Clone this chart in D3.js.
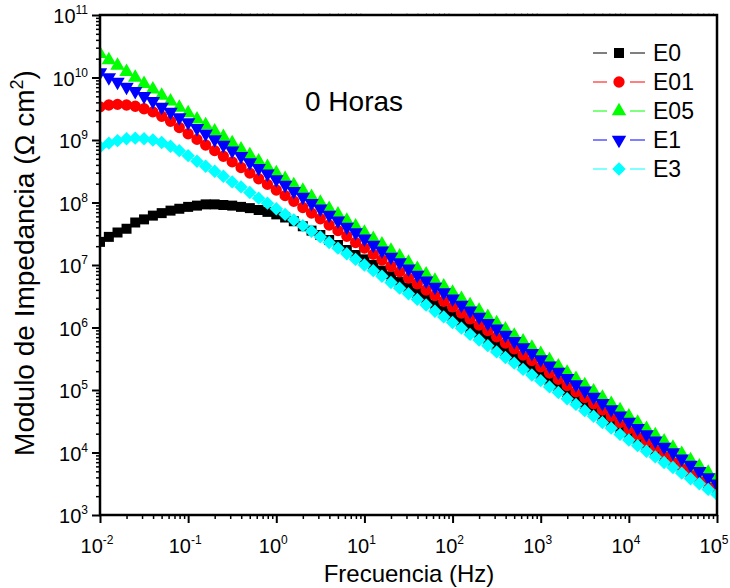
<!DOCTYPE html>
<html>
<head>
<meta charset="utf-8">
<script src="https://cdn.jsdelivr.net/npm/d3@7"></script>
<style>
  body { margin: 0; background: #fff; }
  text { font-family: Arial, "Liberation Sans", sans-serif; fill: #000; }
</style>
</head>
<body>
<svg id="chart" width="730" height="588"></svg>
<script>
// frequencies (Hz), 10 points per decade
const freq = [0.01,0.0126,0.0158,0.02,0.0251,0.0316,0.0398,0.0501,0.0631,0.0794,
  0.1,0.126,0.158,0.2,0.251,0.316,0.398,0.501,0.631,0.794,
  1,1.26,1.58,2,2.51,3.16,3.98,5.01,6.31,7.94,
  10,12.6,15.8,20,25.1,31.6,39.8,50.1,63.1,79.4,
  100,126,158,200,251,316,398,501,631,794,
  1000,1259,1585,1995,2512,3162,3981,5012,6310,7943,
  10000,12589,15849,19953,25119,31623,39811,50119,63096,79433,
  100000];

// log10 |Z| (ohm cm2)
const logZ_E0 = [7.37,7.45,7.52,7.58,7.68,7.73,7.79,7.83,7.87,7.90,
  7.93,7.95,7.97,7.97,7.96,7.95,7.93,7.91,7.88,7.85,
  7.81,7.76,7.70,7.62,7.55,7.48,7.40,7.32,7.24,7.16,
  7.09,7.00,6.91,6.82,6.73,6.64,6.55,6.46,6.36,6.27,
  6.18,6.09,5.99,5.90,5.81,5.71,5.62,5.53,5.43,5.34,
  5.25,5.15,5.06,4.96,4.87,4.77,4.68,4.58,4.49,4.39,
  4.30,4.21,4.11,4.02,3.93,3.84,3.75,3.66,3.57,3.48,
  3.39];
const logZ_E01 = [9.53,9.56,9.57,9.56,9.54,9.50,9.45,9.38,9.30,9.20,
  9.10,9.01,8.92,8.83,8.74,8.65,8.56,8.47,8.38,8.29,
  8.20,8.11,8.02,7.92,7.83,7.74,7.64,7.55,7.46,7.36,
  7.27,7.17,7.08,6.98,6.89,6.79,6.70,6.60,6.51,6.42,
  6.33,6.23,6.14,6.04,5.95,5.85,5.75,5.66,5.56,5.47,
  5.37,5.27,5.17,5.07,4.97,4.88,4.78,4.68,4.58,4.48,
  4.38,4.28,4.18,4.08,3.98,3.89,3.79,3.69,3.59,3.50,
  3.40];
const logZ_E05 = [10.38,10.28,10.19,10.09,10.00,9.90,9.81,9.71,9.62,9.52,
  9.43,9.33,9.24,9.14,9.05,8.95,8.85,8.76,8.66,8.57,
  8.47,8.38,8.28,8.19,8.09,8.00,7.90,7.81,7.71,7.62,
  7.52,7.42,7.33,7.23,7.14,7.04,6.94,6.85,6.75,6.66,
  6.56,6.46,6.36,6.27,6.17,6.07,5.97,5.87,5.78,5.68,
  5.58,5.48,5.38,5.28,5.18,5.08,4.98,4.88,4.78,4.68,
  4.58,4.48,4.38,4.28,4.18,4.08,3.98,3.88,3.78,3.68,
  3.58];
const logZ_E1 = [10.08,10.00,9.93,9.85,9.78,9.70,9.62,9.53,9.45,9.36,
  9.28,9.19,9.10,9.01,8.92,8.83,8.74,8.64,8.55,8.46,
  8.37,8.28,8.18,8.09,7.99,7.90,7.80,7.71,7.61,7.52,
  7.42,7.32,7.23,7.13,7.04,6.94,6.84,6.75,6.65,6.56,
  6.46,6.36,6.27,6.17,6.07,5.98,5.88,5.78,5.68,5.59,
  5.49,5.39,5.29,5.19,5.09,4.99,4.89,4.79,4.69,4.59,
  4.49,4.39,4.29,4.19,4.09,4.00,3.90,3.80,3.70,3.60,
  3.50];
const logZ_E3 = [8.89,8.95,8.99,9.02,9.03,9.02,9.00,8.96,8.90,8.83,
  8.75,8.66,8.58,8.50,8.42,8.33,8.25,8.16,8.07,7.99,
  7.90,7.81,7.72,7.63,7.54,7.45,7.36,7.27,7.18,7.09,
  7.00,6.91,6.82,6.72,6.63,6.54,6.45,6.36,6.26,6.17,
  6.08,5.99,5.89,5.80,5.71,5.61,5.52,5.43,5.33,5.24,
  5.15,5.05,4.96,4.86,4.77,4.67,4.58,4.48,4.39,4.29,
  4.20,4.11,4.02,3.93,3.84,3.76,3.67,3.58,3.50,3.41,
  3.33];

const seriesNames = ["E0", "E01", "E05", "E1", "E3"];
const seriesData = [logZ_E0, logZ_E01, logZ_E05, logZ_E1, logZ_E3];
const seriesColors = ["#000000", "#ff0000", "#00ff00", "#0000ff", "#00ffff"];
const seriesShapes = ["square", "circle", "triUp", "triDown", "diamond"];

const xExp = [-2, -1, 0, 1, 2, 3, 4, 5];
const yExp = [3, 4, 5, 6, 7, 8, 9, 10, 11];

const svg = d3.select("#chart");
const margin = {top: 15, right: 13, bottom: 73, left: 100};
const W = 730 - margin.left - margin.right;
const H = 588 - margin.top - margin.bottom;

const x = d3.scaleLog().domain([1e-2, 1e5]).range([0, W]);
const y = d3.scaleLog().domain([1e3, 1e11]).range([H, 0]);

const g = svg.append("g")
    .attr("transform", "translate(" + margin.left + "," + margin.top + ")");

g.append("clipPath").attr("id", "clip")
  .append("rect").attr("width", W).attr("height", H);

// minor tick positions
function minors(lo, hi) {
    let out = [];
    for (let e = lo; e < hi; e++) {
        for (let m = 2; m <= 9; m++) out.push(m * Math.pow(10, e));
    }
    return out;
}

// bottom axis
g.append("g").attr("transform", "translate(0," + H + ")")
    .call(d3.axisBottom(x).tickValues(minors(-2, 5)).tickSize(4).tickFormat(""))
    .call(a => a.select(".domain").remove())
    .call(a => a.selectAll("line").attr("stroke-width", 1.5));
g.append("g").attr("transform", "translate(0," + H + ")")
    .call(d3.axisBottom(x).tickValues(xExp.map(e => Math.pow(10, e))).tickSize(8).tickFormat(""))
    .call(a => a.select(".domain").remove())
    .call(a => a.selectAll("line").attr("stroke-width", 2));

// left axis
g.append("g")
    .call(d3.axisLeft(y).tickValues(minors(3, 11)).tickSize(4).tickFormat(""))
    .call(a => a.select(".domain").remove())
    .call(a => a.selectAll("line").attr("stroke-width", 1.5));
g.append("g")
    .call(d3.axisLeft(y).tickValues(yExp.map(e => Math.pow(10, e))).tickSize(8).tickFormat(""))
    .call(a => a.select(".domain").remove())
    .call(a => a.selectAll("line").attr("stroke-width", 2));

// faint top ticks
g.append("g")
    .call(d3.axisTop(x).tickValues(minors(-2, 5)).tickSize(2).tickFormat(""))
    .call(a => a.select(".domain").remove())
    .call(a => a.selectAll("line").attr("stroke", "#aaa"));

// tick labels
xExp.forEach(function(e) {
    let t = g.append("text")
        .attr("x", x(Math.pow(10, e)) - 3)
        .attr("y", H + 38)
        .attr("text-anchor", "middle")
        .style("font-size", "20px");
    t.append("tspan").text("10");
    t.append("tspan").attr("dy", -9).style("font-size", "12px").text(e);
});
yExp.forEach(function(e) {
    let t = g.append("text")
        .attr("x", -12)
        .attr("y", y(Math.pow(10, e)) + 8)
        .attr("text-anchor", "end")
        .style("font-size", "20px");
    t.append("tspan").text("10");
    t.append("tspan").attr("dy", -9).style("font-size", "12px").text(e);
});

// axis titles
g.append("text")
    .attr("x", 309)
    .attr("y", H + 67)
    .attr("text-anchor", "middle")
    .style("font-size", "24px")
    .text("Frecuencia (Hz)");

let yt = g.append("text")
    .attr("transform", "translate(-66,248) rotate(-90)")
    .attr("text-anchor", "middle")
    .style("font-size", "28px");
yt.append("tspan").text("Modulo de Impedancia (\u03A9 cm");
yt.append("tspan").attr("dy", -11).style("font-size", "18px").text("2");
yt.append("tspan").attr("dy", 11).text(")");

// marker shapes
function symbolPath(shape) {
    if (shape === "square") return d3.symbol().type(d3.symbolSquare).size(100)();
    if (shape === "circle") return d3.symbol().type(d3.symbolCircle).size(100)();
    if (shape === "diamond") return d3.symbol().type(d3.symbolSquare).size(90)();
    return d3.symbol().type(d3.symbolTriangle).size(90)();
}
function symbolRot(shape) {
    if (shape === "triDown") return " rotate(180)";
    if (shape === "diamond") return " rotate(45)";
    return "";
}

// series
const plot = g.append("g").attr("clip-path", "url(#clip)");
const line = d3.line()
    .x((d, i) => x(freq[i]))
    .y(d => y(Math.pow(10, d)));

seriesData.forEach(function(vals, s) {
    plot.append("path")
        .datum(vals)
        .attr("fill", "none")
        .attr("stroke", seriesColors[s])
        .attr("stroke-width", 1)
        .attr("d", line);
    plot.selectAll(".m" + s)
        .data(vals)
        .enter().append("path")
        .attr("class", "m" + s)
        .attr("d", symbolPath(seriesShapes[s]))
        .attr("fill", seriesColors[s])
        .attr("transform", function(d, i) {
            return "translate(" + x(freq[i]) + "," + y(Math.pow(10, d)) + ")" + symbolRot(seriesShapes[s]);
        });
});

// frame
g.append("rect")
    .attr("width", W).attr("height", H)
    .attr("fill", "none")
    .attr("stroke", "#000")
    .attr("stroke-width", 2.5);

// annotation
g.append("text")
    .attr("x", 205)
    .attr("y", 96)
    .style("font-size", "28px")
    .text("0 Horas");

// legend
const legend = g.append("g").attr("transform", "translate(493,38)");
seriesNames.forEach(function(name, s) {
    let row = legend.append("g").attr("transform", "translate(0," + (s * 29) + ")");
    row.append("line").attr("x1", 0).attr("x2", 14).attr("stroke", seriesColors[s]).attr("stroke-width", 1);
    row.append("line").attr("x1", 37).attr("x2", 52).attr("stroke", seriesColors[s]).attr("stroke-width", 1);
    row.append("path")
        .attr("d", symbolPath(seriesShapes[s]))
        .attr("fill", seriesColors[s])
        .attr("transform", "translate(26,0)" + symbolRot(seriesShapes[s]));
    row.append("text")
        .attr("x", 60)
        .attr("y", 8)
        .style("font-size", "23px")
        .text(name);
});
</script>
</body>
</html>
